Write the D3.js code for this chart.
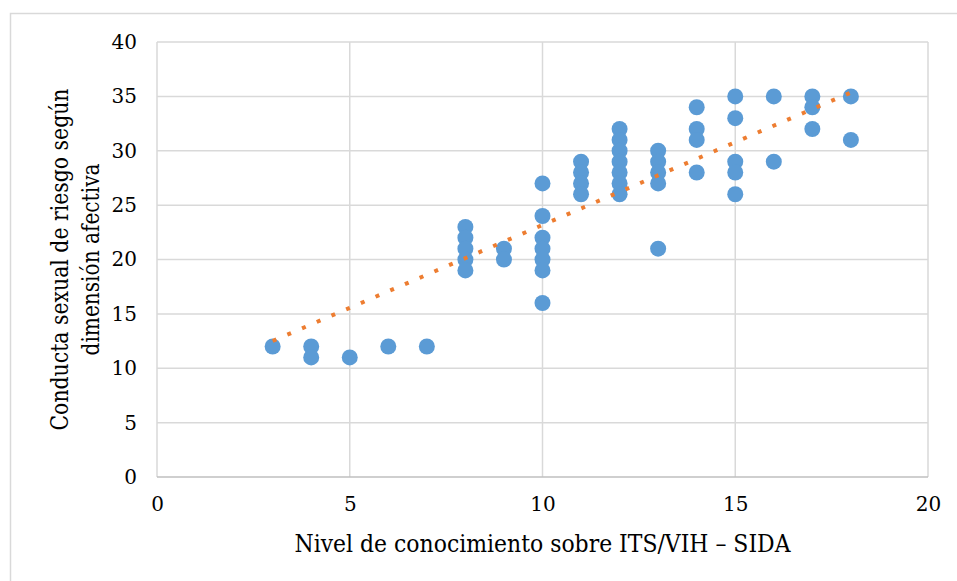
<!DOCTYPE html>
<html>
<head>
<meta charset="utf-8">
<script src="https://cdn.jsdelivr.net/npm/d3@7"></script>
<style>
  body { margin: 0; background: #fff; }
</style>
</head>
<body>
<script>
const width = 957, height = 581;
const margin = { left: 157, top: 42, right: 29, bottom: 104 };
const serif = 'DejaVu Serif';

// nivel de conocimiento (x) y conducta sexual de riesgo (y), un punto por par
const knowledge = [3, 4, 4, 5, 6, 7,
  8, 8, 8, 8, 8,
  9, 9,
  10, 10, 10, 10, 10, 10, 10,
  11, 11, 11, 11,
  12, 12, 12, 12, 12, 12, 12,
  13, 13, 13, 13, 13,
  14, 14, 14, 14,
  15, 15, 15, 15, 15,
  16, 16,
  17, 17, 17,
  18, 18];
const conduct = [12, 12, 11, 11, 12, 12,
  23, 22, 21, 20, 19,
  21, 20,
  27, 24, 22, 21, 20, 19, 16,
  29, 28, 27, 26,
  32, 31, 30, 29, 28, 27, 26,
  30, 29, 28, 27, 21,
  34, 32, 31, 28,
  35, 33, 29, 28, 26,
  35, 29,
  35, 34, 32,
  35, 31];

// linear trendline: y = slope * x + intercept
const trendSlope = 1.523;
const trendIntercept = 7.94;

const xTicks = [0, 5, 10, 15, 20];
const yTicks = [0, 5, 10, 15, 20, 25, 30, 35, 40];

const points = knowledge.map((k, i) => ({ x: k, y: conduct[i] }));

const svg = d3.select('body').append('svg')
  .attr('width', width)
  .attr('height', height);

// chart frame
svg.append('rect')
  .attr('x', 10.5).attr('y', 13.5)
  .attr('width', 960).attr('height', 600)
  .attr('fill', 'none')
  .attr('stroke', '#d9d9d9')
  .attr('stroke-width', 1.5);

const x = d3.scaleLinear().domain([0, 20]).range([margin.left, width - margin.right]);
const y = d3.scaleLinear().domain([0, 40]).range([height - margin.bottom, margin.top]);

// gridlines
svg.append('g').selectAll('line')
  .data(yTicks.slice(1))
  .enter().append('line')
  .attr('x1', x(0)).attr('x2', x(20))
  .attr('y1', d => y(d)).attr('y2', d => y(d))
  .attr('stroke', '#d9d9d9').attr('stroke-width', 1.5);

svg.append('g').selectAll('line')
  .data(xTicks)
  .enter().append('line')
  .attr('x1', d => x(d)).attr('x2', d => x(d))
  .attr('y1', y(0)).attr('y2', y(40))
  .attr('stroke', '#d9d9d9').attr('stroke-width', 1.5);

// x-axis line
svg.append('line')
  .attr('x1', x(0)).attr('x2', x(20))
  .attr('y1', y(0)).attr('y2', y(0))
  .attr('stroke', '#bfbfbf').attr('stroke-width', 1.5);

// axes, labels only
const xAxis = svg.append('g')
  .attr('transform', `translate(0,${y(0)})`)
  .call(d3.axisBottom(x).tickValues(xTicks).tickSize(0).tickPadding(20));
xAxis.attr('font-family', serif).attr('font-size', 20);
xAxis.select('.domain').remove();
xAxis.selectAll('text').attr('fill', '#000');

const yAxis = svg.append('g')
  .attr('transform', `translate(${x(0)},0)`)
  .call(d3.axisLeft(y).tickValues(yTicks).tickSize(0).tickPadding(20));
yAxis.attr('font-family', serif).attr('font-size', 20);
yAxis.select('.domain').remove();
yAxis.selectAll('text').attr('fill', '#000');

// scatter points
svg.append('g').selectAll('circle')
  .data(points)
  .enter().append('circle')
  .attr('cx', d => x(d.x))
  .attr('cy', d => y(d.y))
  .attr('r', 8)
  .attr('fill', '#5b9bd5');

// trendline over the data range
const [xmin, xmax] = d3.extent(points, d => d.x);
svg.append('line')
  .attr('x1', x(xmin)).attr('y1', y(trendSlope * xmin + trendIntercept))
  .attr('x2', x(xmax)).attr('y2', y(trendSlope * xmax + trendIntercept))
  .attr('stroke', '#ed7d31')
  .attr('stroke-width', 4)
  .attr('stroke-dasharray', '4,12');

// axis titles
svg.append('text')
  .attr('x', (x(0) + x(20)) / 2)
  .attr('y', 552)
  .attr('text-anchor', 'middle')
  .attr('font-family', serif)
  .attr('font-size', 24)
  .attr('textLength', 496)
  .attr('lengthAdjust', 'spacingAndGlyphs')
  .text('Nivel de conocimiento sobre ITS/VIH – SIDA');

const yTitle = svg.append('g')
  .attr('transform', `translate(0,${(y(0) + y(40)) / 2}) rotate(-90)`)
  .attr('font-family', serif)
  .attr('font-size', 24);
yTitle.append('text')
  .attr('x', 0).attr('y', 68)
  .attr('text-anchor', 'middle')
  .attr('textLength', 342)
  .attr('lengthAdjust', 'spacingAndGlyphs')
  .text('Conducta sexual de riesgo según');
yTitle.append('text')
  .attr('x', 0).attr('y', 99)
  .attr('text-anchor', 'middle')
  .attr('textLength', 192)
  .attr('lengthAdjust', 'spacingAndGlyphs')
  .text('dimensión afectiva');
</script>
</body>
</html>
